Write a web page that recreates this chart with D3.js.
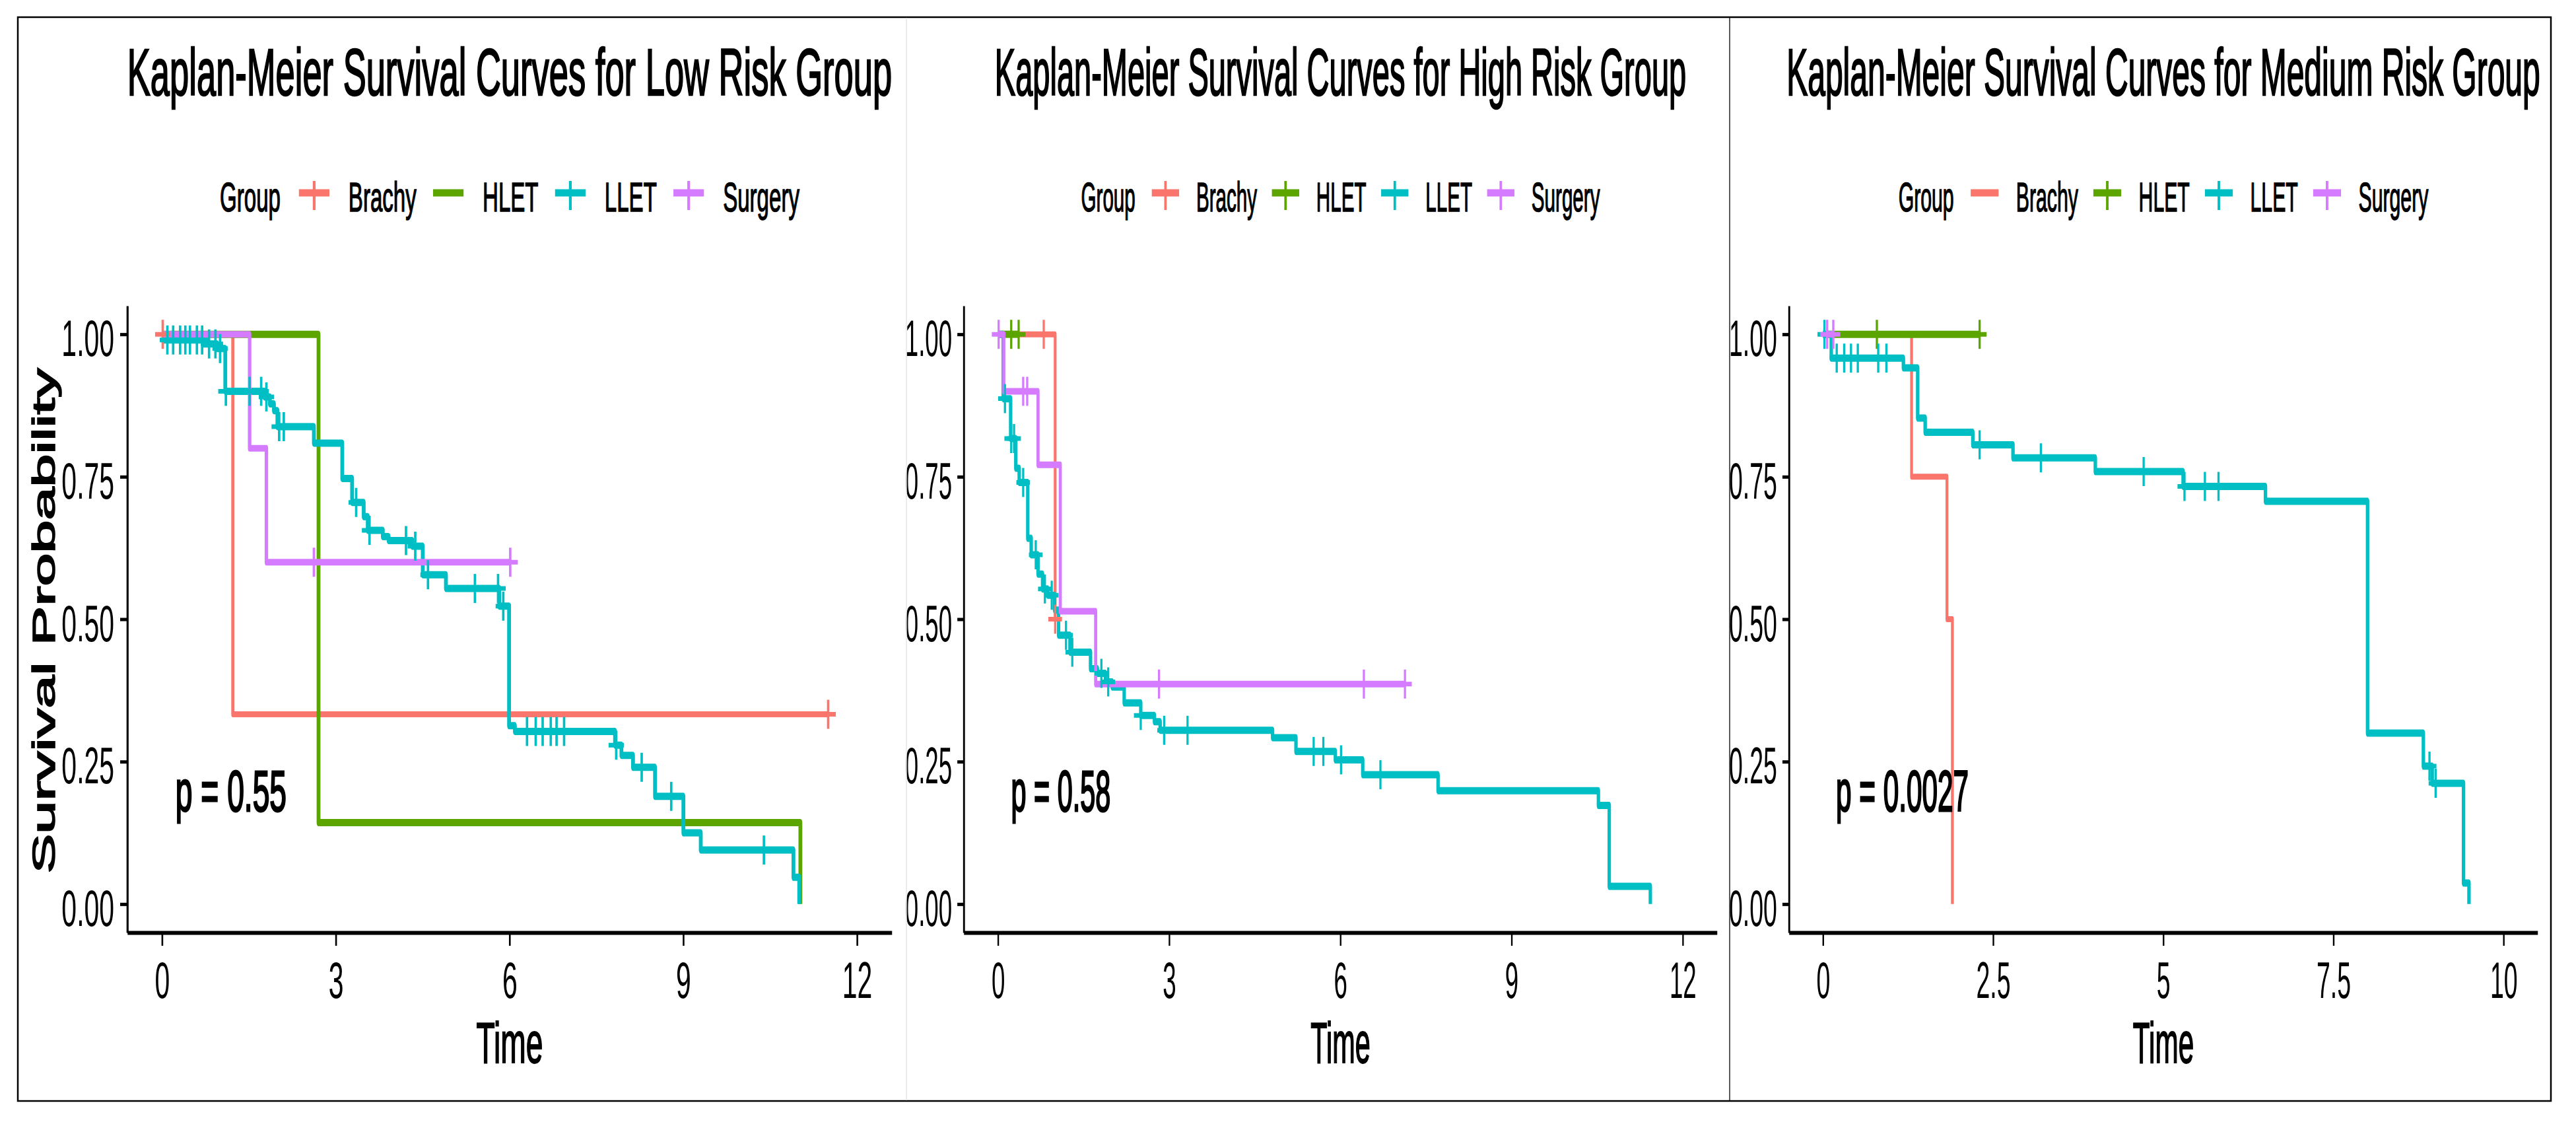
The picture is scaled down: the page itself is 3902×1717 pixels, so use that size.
<!DOCTYPE html>
<html lang="en">
<head>
    <meta charset="utf-8">
    <title>D3: Kaplan-Meier Survival Curves by Risk Group</title>
    <script type="text/javascript" src="https://d3js.org/d3.v7.min.js"></script>
    <style>
        body { margin: 0; background: #ffffff; }
        text { font-family: "Liberation Sans", Arial, Helvetica, sans-serif; fill: #000000; }
    </style>
</head>
<body>
    <script type="text/javascript">

        // Groups and their colours
        var groupNames = ["Brachy", "HLET", "LLET", "Surgery"];
        var groupColors = ["#FA766C", "#5CA500", "#00BFC4", "#D57BFF"];
        var groupLineWidths = [9, 11, 11, 10];

        // Panel titles and log-rank p-values
        var panelTitles = [
            "Kaplan-Meier Survival Curves for Low Risk Group",
            "Kaplan-Meier Survival Curves for High Risk Group",
            "Kaplan-Meier Survival Curves for Medium Risk Group"
        ];
        var pValueLabels = ["p = 0.55", "p = 0.58", "p = 0.0027"];

        // Tick labels
        var survTicks = [0, 0.25, 0.5, 0.75, 1];
        var lowTimeTicks = [0, 3, 6, 9, 12];
        var highTimeTicks = [0, 3, 6, 9, 12];
        var mediumTimeTicks = [0, 2.5, 5, 7.5, 10];

        // Low risk: step times, survival after each step, censor times
        var lowBrachyTime = [0, 1.22, 11.5];
        var lowBrachySurv = [1, 0.333, 0.333];
        var lowBrachyCensor = [0.01, 11.5];

        var lowHletTime = [0, 2.70, 11.02];
        var lowHletSurv = [1, 0.143, 0];
        var lowHletCensor = [];

        var lowLletTime = [0, 0.03, 0.70, 0.95, 1.09, 1.77, 1.86, 1.93, 1.99, 2.62, 3.11, 3.28, 3.48, 3.55, 3.81,
                           3.91, 4.32, 4.50, 4.90, 5.82, 5.99, 6.09, 7.82, 7.93, 8.13, 8.51, 9.00, 9.30, 10.90, 11.00];
        var lowLletSurv = [1, 0.990, 0.983, 0.975, 0.900, 0.890, 0.878, 0.866, 0.838, 0.809, 0.747, 0.705, 0.680, 0.656, 0.645,
                           0.638, 0.628, 0.578, 0.554, 0.523, 0.313, 0.303, 0.279, 0.261, 0.240, 0.189, 0.125, 0.095, 0.047, 0];
        var lowLletCensor = [0.09, 0.19, 0.31, 0.40, 0.48, 0.60, 0.69, 0.81, 0.92, 1.00, 1.10, 1.51, 1.71, 1.80, 2.02, 2.10,
                             3.35, 3.58, 4.21, 4.37, 4.59, 5.40, 5.80, 5.89, 6.30, 6.45, 6.57, 6.71, 6.81, 6.94, 7.84, 8.28, 8.79, 10.39];

        var lowSurgeryTime = [0, 1.51, 1.80, 6.01];
        var lowSurgerySurv = [1, 0.80, 0.60, 0.60];
        var lowSurgeryCensor = [2.62, 6.01];

        // High risk
        var highBrachyTime = [0, 1.00];
        var highBrachySurv = [1, 0.5];
        var highBrachyCensor = [0.80, 1.00];

        var highHletTime = [0, 0.36];
        var highHletSurv = [1, 1];
        var highHletCensor = [0.23, 0.36];

        var highLletTime = [0, 0.09, 0.22, 0.31, 0.37, 0.52, 0.58, 0.70, 0.78, 0.87, 0.99, 1.06, 1.26, 1.62, 1.74,
                            1.88, 2.00, 2.21, 2.50, 2.74, 2.84, 4.81, 5.22, 5.91, 6.39, 7.71, 10.52, 10.71, 11.43];
        var highLletSurv = [1, 0.887, 0.817, 0.765, 0.740, 0.642, 0.613, 0.579, 0.553, 0.542, 0.516, 0.472, 0.442, 0.413, 0.405,
                            0.390, 0.381, 0.353, 0.331, 0.320, 0.305, 0.292, 0.268, 0.253, 0.227, 0.199, 0.173, 0.031, 0];
        var highLletCensor = [0.12, 0.23, 0.28, 0.44, 0.66, 0.82, 0.94, 1.19, 1.30, 1.81, 1.93, 2.50, 2.91, 3.32, 5.53, 5.70, 6.01, 6.70];

        var highSurgeryTime = [0, 0.10, 0.70, 1.09, 1.71, 7.13];
        var highSurgerySurv = [1, 0.90, 0.771, 0.514, 0.386, 0.386];
        var highSurgeryCensor = [0.01, 0.44, 0.51, 2.82, 6.41, 7.13];

        // Medium risk
        var mediumBrachyTime = [0, 1.30, 1.82, 1.90];
        var mediumBrachySurv = [1, 0.75, 0.50, 0];
        var mediumBrachyCensor = [];

        var mediumHletTime = [0, 2.30];
        var mediumHletSurv = [1, 1];
        var mediumHletCensor = [0.79, 2.30];

        var mediumLletTime = [0, 0.12, 1.18, 1.39, 1.50, 2.20, 2.79, 4.00, 5.29, 6.50, 8.00, 8.82, 8.95, 9.41, 9.49];
        var mediumLletSurv = [1, 0.958, 0.941, 0.853, 0.828, 0.806, 0.783, 0.759, 0.733, 0.707, 0.300, 0.242, 0.212, 0.037, 0];
        var mediumLletCensor = [0.02, 0.20, 0.31, 0.41, 0.51, 0.81, 0.93, 2.30, 3.20, 4.71, 5.31, 5.61, 5.81, 8.91, 9.00];

        var mediumSurgeryTime = [0, 0.15];
        var mediumSurgerySurv = [1, 1];
        var mediumSurgeryCensor = [0.06, 0.15];

        // Collect groups per panel (order: Brachy, HLET, LLET, Surgery)
        var panelData = [
            [[lowBrachyTime, lowBrachySurv, lowBrachyCensor], [lowHletTime, lowHletSurv, lowHletCensor],
             [lowLletTime, lowLletSurv, lowLletCensor], [lowSurgeryTime, lowSurgerySurv, lowSurgeryCensor]],
            [[highBrachyTime, highBrachySurv, highBrachyCensor], [highHletTime, highHletSurv, highHletCensor],
             [highLletTime, highLletSurv, highLletCensor], [highSurgeryTime, highSurgerySurv, highSurgeryCensor]],
            [[mediumBrachyTime, mediumBrachySurv, mediumBrachyCensor], [mediumHletTime, mediumHletSurv, mediumHletCensor],
             [mediumLletTime, mediumLletSurv, mediumLletCensor], [mediumSurgeryTime, mediumSurgerySurv, mediumSurgeryCensor]]
        ];
        var panelTicks = [lowTimeTicks, highTimeTicks, mediumTimeTicks];

        // Page layout: plot box of each panel (px) and its sideways squeeze
        var panelBoxes = [
            { left: 193, right: 1351, squeeze: 0.525 },
            { left: 1460, right: 2601, squeeze: 0.47 },
            { left: 2710, right: 3844, squeeze: 0.48 }
        ];
        var plotTop = 463, plotBottom = 1412;

        var svg = d3.select("body").append("svg")
            .attr("width", 3902)
            .attr("height", 1717);

        svg.append("rect")
            .attr("width", 3902)
            .attr("height", 1717)
            .attr("fill", "#ffffff");

        // Survival value of a group at time t (step function)
        function survAt(group, t) {
            var i = d3.bisectRight(group[0], t) - 1;
            return group[1][Math.max(i, 0)];
        }

        panelBoxes.forEach(function(box, p) {
            var s = box.squeeze;
            var data = panelData[p];
            var ticks = panelTicks[p];
            var tMax = ticks[ticks.length - 1];

            var g = svg.append("g").attr("transform", "scale(" + s + ",1)");

            var x = d3.scaleLinear()
                .domain([-0.05 * tMax, 1.05 * tMax])
                .range([box.left / s, box.right / s]);
            var y = d3.scaleLinear()
                .domain([-0.05, 1.05])
                .range([plotBottom, plotTop]);
            var cx = (x.range()[0] + x.range()[1]) / 2;

            // Title
            g.append("text")
                .attr("x", cx)
                .attr("y", 144)
                .attr("text-anchor", "middle")
                .attr("font-size", 100)
                .attr("stroke", "#000000")
                .attr("stroke-width", 2.5)
                .text(panelTitles[p]);

            // Legend
            var legend = g.append("g");
            var cursor = 0;
            var gt = legend.append("text")
                .attr("x", 0).attr("y", 320)
                .attr("font-size", 63)
                .attr("stroke", "#000000")
                .attr("stroke-width", 1.5)
                .text("Group");
            cursor = gt.node().getComputedTextLength() + 53;
            groupNames.forEach(function(name, i) {
                legend.append("line")
                    .attr("x1", cursor).attr("x2", cursor + 88)
                    .attr("y1", 292).attr("y2", 292)
                    .attr("stroke", groupColors[i])
                    .attr("stroke-width", 11);
                if (data[i][2].length > 0) {
                    legend.append("line")
                        .attr("x1", cursor + 44).attr("x2", cursor + 44)
                        .attr("y1", 274).attr("y2", 318)
                        .attr("stroke", groupColors[i])
                        .attr("stroke-width", 8);
                }
                cursor += 88 + 55;
                var lt = legend.append("text")
                    .attr("x", cursor).attr("y", 320)
                    .attr("font-size", 63)
                    .attr("stroke", "#000000")
                    .attr("stroke-width", 1.5)
                    .text(name);
                cursor += lt.node().getComputedTextLength() + 48;
            });
            cursor -= 48;
            legend.attr("transform", "translate(" + (cx - cursor / 2) + ",0)");

            // Axes
            var yAxis = g.append("g")
                .attr("transform", "translate(" + x.range()[0] + ",0)")
                .call(d3.axisLeft(y).tickValues(survTicks).tickFormat(d3.format(".2f"))
                    .tickSize(21).tickPadding(17).tickSizeOuter(0));
            yAxis.attr("font-family", null).attr("font-size", null);
            yAxis.select(".domain").attr("stroke-width", 6);
            yAxis.selectAll(".tick line").attr("stroke-width", 5);
            yAxis.selectAll(".tick text").attr("font-size", 78).attr("dy", "0.42em");

            var xAxis = g.append("g")
                .attr("transform", "translate(0," + plotBottom + ")")
                .call(d3.axisBottom(x).tickValues(ticks).tickFormat(d3.format("~g"))
                    .tickSize(20).tickPadding(24).tickSizeOuter(0));
            xAxis.attr("font-family", null).attr("font-size", null);
            xAxis.select(".domain").attr("stroke-width", 6);
            xAxis.selectAll(".tick line").attr("stroke-width", 5);
            xAxis.selectAll(".tick text").attr("font-size", 78);

            g.append("text")
                .attr("x", cx)
                .attr("y", 1609)
                .attr("text-anchor", "middle")
                .attr("font-size", 88)
                .attr("stroke", "#000000")
                .attr("stroke-width", 2)
                .text("Time");

            if (p === 0) {
                g.append("text")
                    .attr("transform", "translate(" + (83 / s) + ",940) rotate(-90)")
                    .attr("text-anchor", "middle")
                    .attr("font-size", 90)
                    .attr("stroke", "#000000")
                    .attr("stroke-width", 3)
                    .text("Survival Probability");
            }

            // Survival step curves
            var line = d3.line()
                .x(function(d) { return x(d[0]); })
                .y(function(d) { return y(d[1]); })
                .curve(d3.curveStepAfter);

            data.forEach(function(group, i) {
                var pts = group[0].map(function(t, k) { return [t, group[1][k]]; });
                g.append("path")
                    .attr("d", line(pts))
                    .attr("fill", "none")
                    .attr("stroke", groupColors[i])
                    .attr("stroke-width", groupLineWidths[i])
                    .attr("stroke-linejoin", "round");
            });

            // Censor marks
            data.forEach(function(group, i) {
                g.selectAll(null)
                    .data(group[2])
                    .enter()
                    .append("path")
                    .attr("transform", function(t) {
                        return "translate(" + x(t) + "," + y(survAt(group, t)) + ")";
                    })
                    .attr("d", "M-22,0H22M0,-22V22")
                    .attr("fill", "none")
                    .attr("stroke", groupColors[i])
                    .attr("stroke-width", 7);
            });

            // p-value
            var maxTime = d3.max(data, function(group) { return d3.max(group[0].concat(group[2])); });
            g.append("text")
                .attr("x", x(maxTime / 50))
                .attr("y", y(0.2))
                .attr("dy", "0.36em")
                .attr("font-size", 88)
                .attr("stroke", "#000000")
                .attr("stroke-width", 3)
                .text(pValueLabels[p]);
        });

        // Outer frame and panel separators
        svg.append("rect")
            .attr("x", 27).attr("y", 26)
            .attr("width", 3864 - 27).attr("height", 1667 - 26)
            .attr("fill", "none")
            .attr("stroke", "#000000")
            .attr("stroke-width", 2.5);
        svg.append("line")
            .attr("x1", 1373).attr("x2", 1373).attr("y1", 27).attr("y2", 1666)
            .attr("stroke", "#e6e6e6").attr("stroke-width", 1.5);
        svg.append("line")
            .attr("x1", 2620).attr("x2", 2620).attr("y1", 27).attr("y2", 1666)
            .attr("stroke", "#222222").attr("stroke-width", 1.5);

    </script>
</body>
</html>
